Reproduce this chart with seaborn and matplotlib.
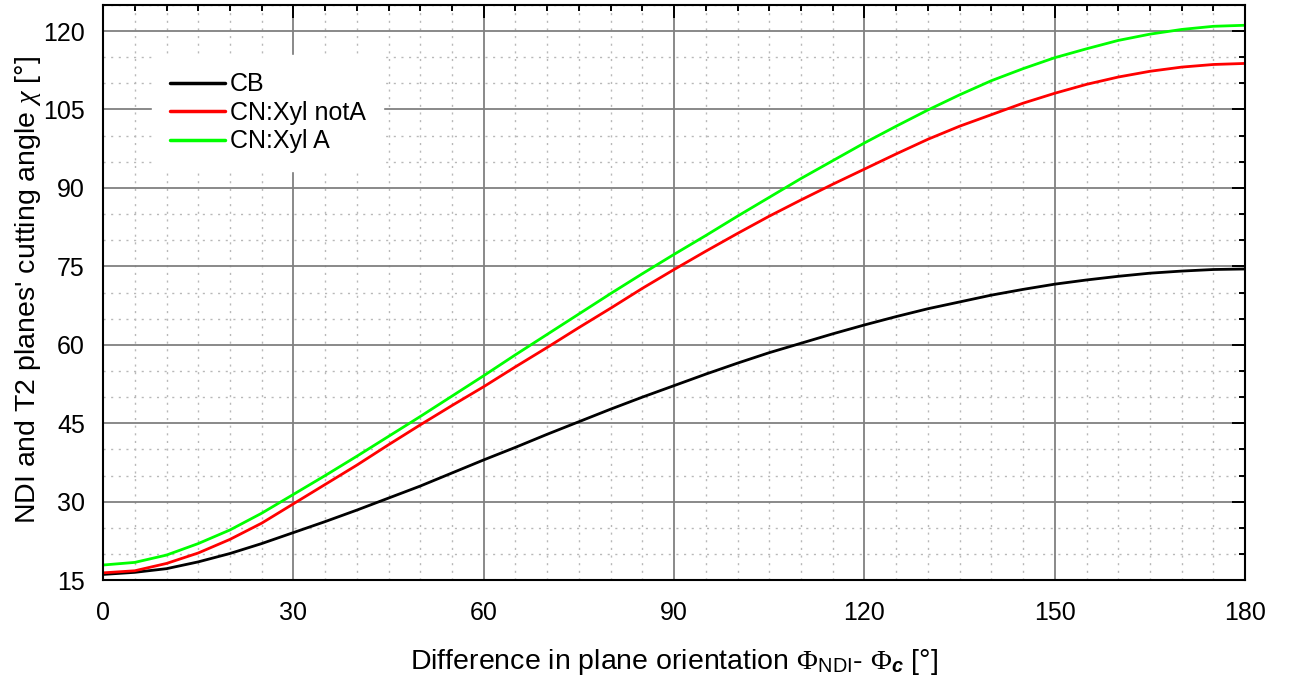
import pandas as pd
import numpy as np
import matplotlib
matplotlib.use('Agg')
import matplotlib.pyplot as plt
import seaborn as sns
from matplotlib.ticker import MultipleLocator

phi = list(range(0, 181, 5))
cb = [16.1, 16.5, 17.2, 18.5, 20.1, 22.0, 24.1, 26.2, 28.4, 30.7, 33.0, 35.5, 38.0,
      40.4, 42.9, 45.3, 47.7, 50.0, 52.2, 54.4, 56.5, 58.5, 60.3, 62.1, 63.8, 65.4,
      66.9, 68.2, 69.5, 70.6, 71.6, 72.4, 73.1, 73.7, 74.1, 74.4, 74.5]
xyl_nota = [16.4, 16.8, 18.2, 20.2, 22.8, 25.9, 29.6, 33.3, 37.0, 40.9, 44.7, 48.4, 52.0,
            55.8, 59.5, 63.3, 67.0, 70.8, 74.4, 77.9, 81.3, 84.6, 87.7, 90.7, 93.6, 96.5,
            99.3, 101.8, 104.0, 106.2, 108.1, 109.8, 111.2, 112.3, 113.1, 113.6, 113.8]
xyl_a = [17.9, 18.4, 19.8, 22.0, 24.6, 27.8, 31.4, 35.0, 38.7, 42.5, 46.3, 50.2, 54.1,
         58.1, 62.0, 65.9, 69.8, 73.6, 77.3, 80.9, 84.6, 88.2, 91.8, 95.2, 98.6, 101.8,
         104.9, 107.8, 110.5, 112.8, 114.9, 116.6, 118.2, 119.4, 120.3, 120.9, 121.1]
labels = ['CB', 'CN:Xyl notA', 'CN:Xyl A']
colors = ['#000000', '#ff0000', '#00ff00']

df = pd.concat([
    pd.DataFrame({'phi': phi, 'chi': vals, 'series': name})
    for name, vals in zip(labels, [cb, xyl_nota, xyl_a])
], ignore_index=True)

sns.set_style('white')
plt.rcParams['font.family'] = ['Liberation Sans', 'DejaVu Sans']
plt.rcParams['text.color'] = 'black'
plt.rcParams['axes.labelcolor'] = 'black'
# serif greek letters, sans subscripts
plt.rcParams['mathtext.fontset'] = 'custom'
plt.rcParams['mathtext.rm'] = 'Liberation Serif'
plt.rcParams['mathtext.it'] = 'Liberation Serif:italic'
plt.rcParams['mathtext.sf'] = 'Liberation Sans'
plt.rcParams['mathtext.bf'] = 'Liberation Sans:bold:italic'

fig = plt.figure(figsize=(12.93, 6.94), dpi=100)
ax = fig.add_axes([0.0797, 0.164, 0.8833, 0.829])

sns.lineplot(data=df, x='phi', y='chi', hue='series', hue_order=labels,
             palette=colors, linewidth=2.0, ax=ax)

ax.set_xlim(0, 180)
ax.set_ylim(15, 125)
ax.xaxis.set_major_locator(MultipleLocator(30))
ax.xaxis.set_minor_locator(MultipleLocator(5))
ax.yaxis.set_minor_locator(MultipleLocator(5))
ax.set_yticks([15, 30, 45, 60, 75, 90, 105, 120])

ax.grid(which='major', color='#808080', linewidth=1.3)
ax.grid(which='minor', color='#b8b8b8', linewidth=1.0, linestyle=(0, (1.5, 4)))
ax.set_axisbelow(True)

ax.tick_params(which='both', direction='in', top=True, right=True, labelsize=18,
               width=1.4, colors='black')
ax.tick_params(which='major', length=9.5)
ax.tick_params(which='minor', length=4.5)
ax.tick_params(axis='x', which='major', pad=15)
ax.tick_params(axis='y', which='major', pad=13)
for s in ax.spines.values():
    s.set_linewidth(1.5)
    s.set_color('black')

ax.set_xlabel(r'Difference in plane orientation $\Phi_{\mathsf{NDI}}$- $\Phi_{\mathbf{c}}$ [°]',
              fontsize=20.5, labelpad=16)
ax.set_ylabel(r"NDI and T2 planes' cutting angle $\chi$ [°]", fontsize=20.5)
ax.yaxis.set_label_coords(-0.053, 0.505)

leg = ax.legend(loc='upper left', bbox_to_anchor=(0.032, 0.935), fontsize=18,
                frameon=True, fancybox=False, edgecolor='white', facecolor='white',
                framealpha=1.0, handlelength=2.2, handletextpad=0.2, labelspacing=0.18,
                borderpad=0.7)
for line in leg.get_lines():
    line.set_linewidth(2.5)

fig.savefig('out.png', dpi=100)
